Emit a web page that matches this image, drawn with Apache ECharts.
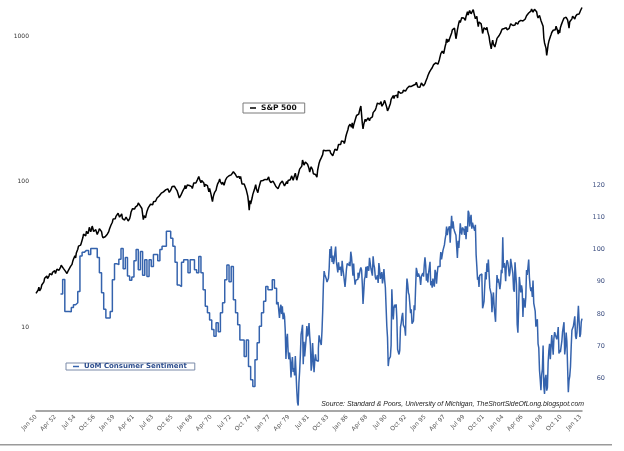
<!DOCTYPE html>
<html>
<head>
<meta charset="utf-8">
<script src="https://cdn.jsdelivr.net/npm/echarts@6/dist/echarts.min.js"></script>
<style>
  html, body { margin: 0; padding: 0; background: #fff; }
  #chart { width: 624px; height: 451px; }
</style>
</head>
<body>
<div id="chart"></div>
<script>
// S&P 500 monthly close, Jan 1950 .. Mar 2013 (one row per year)
const sp500 = [
  17.05, 17.22, 17.29, 17.96, 18.78, 17.69, 17.84, 18.42, 19.45, 19.53, 19.51, 20.41,
  21.66, 21.80, 21.40, 22.43, 21.52, 20.96, 22.40, 23.28, 23.26, 22.94, 22.88, 23.77,
  24.14, 23.26, 24.37, 23.32, 23.86, 24.96, 25.40, 25.03, 24.54, 24.52, 25.66, 26.57,
  26.38, 25.90, 25.29, 24.62, 24.54, 24.14, 24.75, 23.32, 23.35, 24.54, 24.76, 24.81,
  26.08, 26.15, 26.94, 28.26, 29.19, 29.21, 30.88, 29.83, 32.31, 31.68, 34.24, 35.98,
  36.63, 36.76, 36.58, 37.96, 37.91, 41.03, 43.52, 43.18, 43.67, 42.34, 45.51, 45.48,
  43.82, 45.34, 48.48, 48.38, 45.20, 46.97, 49.39, 47.51, 45.35, 45.58, 45.08, 46.67,
  44.72, 43.26, 44.11, 45.74, 47.43, 47.37, 47.91, 45.22, 42.42, 41.06, 41.72, 39.99,
  41.70, 40.84, 42.10, 43.44, 44.09, 45.24, 47.19, 47.75, 50.06, 51.33, 52.48, 55.21,
  55.42, 55.41, 55.44, 57.59, 58.68, 58.47, 60.51, 59.60, 56.88, 57.52, 58.28, 59.89,
  55.61, 56.12, 55.34, 54.37, 55.83, 56.92, 55.51, 56.96, 53.52, 53.39, 55.54, 58.11,
  61.78, 63.44, 65.06, 65.31, 66.56, 64.64, 66.76, 68.07, 66.73, 68.62, 71.32, 71.55,
  68.84, 69.96, 69.55, 65.24, 59.63, 54.75, 58.23, 59.12, 56.27, 56.52, 62.26, 63.10,
  66.20, 64.29, 66.57, 69.80, 70.80, 69.37, 69.13, 72.50, 71.70, 74.01, 73.23, 75.02,
  77.04, 77.80, 78.98, 79.46, 80.37, 81.69, 83.18, 81.83, 84.18, 84.86, 84.42, 84.75,
  87.56, 87.43, 86.16, 89.11, 88.42, 84.12, 85.25, 87.17, 89.96, 92.42, 91.61, 92.43,
  92.88, 91.22, 89.23, 91.06, 86.13, 84.74, 83.60, 77.10, 76.56, 80.20, 80.45, 80.33,
  86.61, 86.78, 90.20, 94.01, 89.08, 90.64, 94.75, 93.64, 96.71, 93.90, 94.00, 96.47,
  92.24, 89.36, 90.20, 97.59, 98.68, 99.58, 97.74, 98.86, 102.67, 103.41, 108.37, 103.86,
  103.01, 98.13, 101.51, 103.69, 103.46, 97.71, 91.83, 95.51, 93.12, 97.24, 93.81, 92.06,
  85.02, 89.50, 89.63, 81.52, 76.55, 72.72, 78.05, 81.52, 84.21, 83.25, 87.20, 92.15,
  95.88, 96.75, 100.31, 103.95, 99.63, 98.70, 95.58, 99.03, 98.34, 94.23, 93.99, 102.09,
  103.94, 106.57, 107.20, 107.67, 109.53, 107.14, 107.39, 111.09, 110.55, 111.58, 116.67, 118.05,
  116.03, 111.68, 111.52, 106.97, 104.95, 104.26, 108.22, 104.25, 108.43, 108.29, 95.96, 97.55,
  96.57, 96.22, 93.98, 90.31, 87.28, 86.00, 79.31, 72.15, 63.54, 73.90, 69.97, 68.56,
  76.98, 81.59, 83.36, 87.30, 91.15, 95.19, 88.75, 86.88, 83.87, 89.04, 91.24, 90.19,
  100.86, 99.71, 102.77, 101.64, 100.18, 104.28, 103.44, 102.91, 105.24, 102.90, 102.10, 107.46,
  102.03, 99.82, 98.42, 98.44, 96.12, 100.48, 98.85, 96.77, 96.53, 92.34, 94.83, 95.10,
  89.25, 87.04, 89.21, 96.83, 97.24, 95.53, 100.68, 103.29, 102.54, 93.15, 94.70, 96.11,
  99.93, 96.28, 101.59, 101.76, 99.08, 102.91, 103.81, 109.32, 109.32, 101.82, 106.16, 107.94,
  114.16, 113.66, 102.09, 106.29, 111.24, 114.24, 121.67, 122.38, 125.46, 127.47, 140.52, 135.76,
  129.55, 131.27, 136.00, 132.81, 132.59, 131.21, 130.92, 122.79, 116.18, 121.89, 126.35, 122.55,
  120.40, 113.11, 111.96, 116.44, 111.88, 109.61, 107.09, 119.51, 120.42, 133.71, 138.54, 140.64,
  145.30, 148.06, 152.96, 164.42, 162.39, 168.11, 162.56, 164.40, 166.07, 163.55, 166.40, 164.93,
  163.41, 157.06, 159.18, 160.05, 150.55, 153.18, 150.66, 166.68, 166.10, 166.09, 163.58, 167.24,
  179.63, 181.18, 180.66, 179.83, 189.55, 191.85, 190.92, 188.63, 182.08, 189.82, 202.17, 211.28,
  211.78, 226.92, 238.90, 235.52, 247.35, 250.84, 236.12, 252.93, 231.32, 243.98, 249.22, 242.17,
  274.08, 284.20, 291.70, 288.36, 290.10, 304.00, 318.66, 329.80, 321.83, 251.79, 230.30, 247.08,
  257.07, 267.82, 258.89, 261.33, 262.16, 273.50, 272.02, 261.52, 271.91, 278.97, 273.70, 277.72,
  297.47, 288.86, 294.87, 309.64, 320.52, 317.98, 346.08, 351.45, 349.15, 340.36, 345.99, 353.40,
  329.08, 331.89, 339.94, 330.80, 361.23, 358.02, 356.15, 322.56, 306.05, 304.00, 322.22, 330.22,
  343.93, 367.07, 375.22, 375.35, 389.83, 371.16, 387.81, 395.43, 387.86, 392.46, 375.22, 417.09,
  408.79, 412.70, 403.69, 414.95, 415.35, 408.14, 424.21, 414.03, 417.80, 418.68, 431.35, 435.71,
  438.78, 443.38, 451.67, 440.19, 450.19, 450.53, 448.13, 463.56, 458.93, 467.83, 461.79, 466.45,
  481.61, 467.14, 445.77, 450.91, 456.50, 444.27, 458.26, 475.49, 462.69, 472.35, 453.69, 459.27,
  470.42, 487.39, 500.71, 514.71, 533.40, 544.75, 562.06, 561.88, 584.41, 581.50, 605.37, 615.93,
  636.02, 640.43, 645.50, 654.17, 669.12, 670.63, 639.95, 651.99, 687.33, 705.27, 757.02, 740.74,
  786.16, 790.82, 757.12, 801.34, 848.28, 885.14, 954.29, 899.47, 947.28, 914.62, 955.40, 970.43,
  980.28, 1049.34, 1101.75, 1111.75, 1090.82, 1133.84, 1120.67, 957.28, 1017.01, 1098.67, 1163.63, 1229.23,
  1279.64, 1238.33, 1286.37, 1335.18, 1301.84, 1372.71, 1328.72, 1320.41, 1282.71, 1362.93, 1388.91, 1469.25,
  1394.46, 1366.42, 1498.58, 1452.43, 1420.60, 1454.60, 1430.83, 1517.68, 1436.51, 1429.40, 1314.95, 1320.28,
  1366.01, 1239.94, 1160.33, 1249.46, 1255.82, 1224.38, 1211.23, 1133.58, 1040.94, 1059.78, 1139.45, 1148.08,
  1130.20, 1106.73, 1147.39, 1076.92, 1067.14, 989.82, 911.62, 916.07, 815.28, 885.76, 936.31, 879.82,
  855.70, 841.15, 849.18, 916.92, 963.59, 974.50, 990.31, 1008.01, 995.97, 1050.71, 1058.20, 1111.92,
  1131.13, 1144.94, 1126.21, 1107.30, 1120.68, 1140.84, 1101.72, 1104.24, 1114.58, 1130.20, 1173.82, 1211.92,
  1181.27, 1203.60, 1180.59, 1156.85, 1191.50, 1191.33, 1234.18, 1220.33, 1228.81, 1207.01, 1249.48, 1248.29,
  1280.08, 1280.66, 1294.83, 1310.61, 1270.09, 1270.20, 1276.66, 1303.82, 1335.85, 1377.94, 1400.63, 1418.30,
  1438.24, 1406.82, 1420.86, 1482.37, 1530.62, 1503.35, 1455.27, 1473.99, 1526.75, 1549.38, 1481.14, 1468.36,
  1378.55, 1330.63, 1322.70, 1385.59, 1400.38, 1280.00, 1267.38, 1282.83, 1166.36, 968.75, 896.24, 903.25,
  825.88, 735.09, 797.87, 872.81, 919.14, 919.32, 987.48, 1020.62, 1057.08, 1036.19, 1095.63, 1115.10,
  1073.87, 1104.49, 1169.43, 1186.69, 1089.41, 1030.71, 1101.60, 1049.33, 1141.20, 1183.26, 1180.55, 1257.64,
  1286.12, 1327.22, 1325.83, 1363.61, 1345.20, 1320.64, 1292.28, 1218.89, 1131.42, 1253.30, 1246.96, 1257.60,
  1312.41, 1365.68, 1408.47, 1397.91, 1310.33, 1362.16, 1379.32, 1406.58, 1440.67, 1412.16, 1416.18, 1426.19,
  1498.11, 1514.68, 1569.19
];

// UoM sentiment, quarterly surveys Nov 1952 .. Nov 1977 (Nov, Feb, May, Aug)
const sentimentQuarterly = [
  86.2, 90.7, 80.8, 80.8,
  80.7, 82.0, 82.9, 83.5,
  87.0, 98.0, 99.1, 99.7,
  99.7, 98.4, 100.3, 100.3,
  100.3, 97.5, 92.8, 86.6,
  81.5, 78.8, 78.8, 80.8,
  90.6, 95.6, 95.3, 97.0,
  100.3, 94.0, 97.5, 91.8,
  90.5, 91.5, 96.5, 100.0,
  93.7, 99.4, 92.0, 96.8,
  91.6, 96.8, 94.7, 98.4,
  98.4, 96.5, 100.0, 101.0,
  101.0, 105.6, 105.6, 103.5,
  101.0, 96.0, 89.0, 88.5,
  96.0, 96.8, 96.8, 92.8,
  96.8, 96.8, 93.7, 92.8,
  97.8, 92.8, 87.5, 82.4,
  80.4, 78.2, 75.2, 73.1,
  77.3, 74.5, 80.4, 83.5,
  90.6, 95.2, 90.0, 94.7,
  84.4, 80.4, 76.7, 72.0,
  72.0, 66.9, 72.0, 63.8,
  59.7, 57.6, 65.9, 71.1,
  76.2, 80.4, 84.0, 88.5,
  87.5, 87.5, 90.6, 88.0,
  83.0
];

// UoM sentiment, monthly Jan 1978 .. Mar 2013
const sentimentMonthly = [
  83.7, 84.3, 78.8, 81.6, 82.9, 80.0, 82.4, 78.4, 80.4, 79.3, 75.0, 66.1,
  72.1, 73.9, 68.4, 66.0, 68.1, 65.8, 60.4, 64.5, 66.7, 62.1, 63.3, 61.0,
  67.0, 66.9, 56.5, 52.7, 51.7, 58.7, 62.3, 67.3, 73.7, 75.0, 76.7, 64.5,
  71.4, 66.9, 66.5, 72.4, 76.3, 73.1, 74.1, 77.2, 73.1, 70.3, 62.5, 64.3,
  71.0, 66.5, 62.0, 65.5, 67.5, 65.7, 65.4, 65.4, 69.3, 73.4, 72.1, 71.9,
  70.4, 74.6, 80.8, 89.1, 93.3, 92.2, 92.8, 90.9, 89.9, 89.3, 91.1, 94.2,
  100.1, 97.4, 101.0, 96.1, 98.1, 95.5, 96.6, 99.1, 100.9, 96.3, 95.7, 92.9,
  96.0, 93.7, 93.7, 94.6, 91.8, 96.5, 94.0, 92.4, 92.1, 88.4, 90.9, 93.9,
  95.6, 95.9, 95.1, 96.2, 94.8, 99.3, 97.7, 94.9, 91.9, 95.6, 91.4, 89.1,
  90.4, 90.2, 90.8, 92.8, 91.1, 91.5, 93.7, 94.4, 93.6, 89.3, 83.1, 86.8,
  90.8, 91.6, 94.6, 91.2, 94.8, 94.7, 93.4, 97.4, 97.3, 94.1, 93.0, 91.9,
  97.9, 95.4, 94.3, 91.5, 90.7, 90.6, 92.0, 89.6, 95.8, 93.9, 90.9, 90.5,
  93.0, 89.5, 91.3, 93.9, 90.6, 88.3, 88.2, 76.4, 72.8, 63.9, 66.0, 65.5,
  66.8, 70.4, 87.7, 81.8, 78.3, 82.1, 82.9, 82.0, 83.0, 78.3, 69.1, 68.2,
  67.5, 68.8, 76.0, 77.2, 79.2, 80.4, 76.6, 76.1, 75.6, 73.3, 85.3, 91.0,
  89.3, 86.6, 85.9, 85.6, 80.3, 81.5, 77.0, 77.3, 77.9, 82.7, 81.2, 88.2,
  94.3, 93.2, 91.5, 92.6, 92.8, 91.2, 89.0, 91.7, 91.5, 92.7, 91.6, 95.1,
  97.6, 95.1, 90.3, 92.5, 89.8, 92.7, 94.4, 96.2, 88.9, 90.2, 88.2, 91.0,
  89.3, 88.5, 93.7, 92.7, 89.4, 92.4, 94.7, 95.3, 94.7, 96.5, 99.2, 96.9,
  97.4, 99.7, 100.0, 101.4, 103.2, 104.5, 107.1, 104.4, 106.0, 105.6, 107.2, 102.1,
  106.6, 110.4, 106.5, 108.7, 106.5, 105.6, 105.2, 104.4, 100.9, 97.4, 102.7, 100.5,
  103.9, 108.1, 105.7, 104.6, 106.8, 107.3, 106.0, 104.5, 107.2, 103.2, 107.2, 105.4,
  112.0, 111.3, 107.1, 109.2, 110.7, 106.4, 108.3, 107.3, 106.8, 105.8, 107.6, 98.4,
  94.7, 90.6, 91.5, 88.4, 92.0, 92.6, 92.4, 91.5, 81.8, 82.7, 83.9, 88.8,
  93.0, 90.7, 95.7, 93.0, 96.9, 92.4, 88.1, 87.6, 86.1, 80.6, 84.2, 86.7,
  82.4, 79.9, 77.6, 86.0, 92.1, 89.7, 90.9, 89.3, 87.7, 89.6, 93.7, 92.6,
  103.8, 94.4, 95.8, 94.2, 90.2, 95.6, 96.7, 95.9, 94.2, 91.7, 92.8, 97.1,
  95.5, 94.1, 92.6, 87.7, 86.9, 96.0, 96.5, 89.1, 76.9, 74.2, 81.6, 91.5,
  91.2, 86.7, 88.9, 87.4, 79.1, 84.9, 84.7, 82.0, 85.4, 93.6, 92.1, 91.7,
  96.9, 91.3, 88.4, 87.1, 88.3, 85.3, 90.4, 83.4, 83.4, 80.9, 76.1, 75.5,
  78.4, 70.8, 69.5, 62.6, 59.8, 56.4, 61.2, 63.0, 70.3, 57.6, 55.3, 60.1,
  61.2, 56.3, 57.3, 65.1, 68.7, 70.8, 66.0, 65.7, 73.5, 70.6, 67.4, 72.5,
  74.4, 73.6, 73.6, 72.2, 73.6, 76.0, 67.8, 68.9, 68.2, 67.7, 71.6, 74.5,
  74.2, 77.5, 67.5, 69.8, 74.3, 71.5, 63.7, 55.8, 59.5, 60.8, 63.7, 69.9,
  75.0, 75.3, 76.2, 76.4, 79.3, 73.2, 72.3, 74.3, 78.3, 82.6, 82.7, 72.9,
  73.8, 77.6, 78.6
];

const monthNames = ['Jan', 'Feb', 'Mar', 'Apr', 'May', 'Jun', 'Jul', 'Aug', 'Sep', 'Oct', 'Nov', 'Dec'];
const leftTicks = [10, 100, 1000];
const rightTicks = [60, 70, 80, 90, 100, 110, 120];

// month categories Jan 50 .. Mar 13
const categories = [];
for (let y = 1950; y <= 2013; y++) {
  for (let m = 0; m < 12; m++) {
    if (y === 2013 && m > 2) break;
    categories.push(monthNames[m] + ' ' + String(y % 100).padStart(2, '0'));
  }
}

const firstSurvey = categories.indexOf('Nov 52');
const monthlyStart = categories.indexOf('Jan 78');
const sentimentData = sentimentQuarterly.map((v, i) => [firstSurvey + 3 * i, v])
  .concat(sentimentMonthly.map((v, i) => [monthlyStart + i, v]));

const BLUE = '#3563ad';

const chart = echarts.init(document.getElementById('chart'), null, { renderer: 'canvas' });

const option = {
  animation: false,
  backgroundColor: '#fff',
  grid: {
    left: 36, right: 42, top: 0, bottom: 40,
    containLabel: false,
    outerBoundsMode: 'none'
  },
  legend: [{
    data: ['S&P 500'],
    left: 243, top: 103,
    orient: 'horizontal',
    padding: [1, 8, 1, 7],
    borderColor: '#7a7a7a', borderWidth: 1,
    icon: 'rect', itemWidth: 6, itemHeight: 1.5,
    textStyle: { fontFamily: 'DejaVu Sans', fontSize: 7.5, fontWeight: 'bold', color: '#111' }
  }, {
    data: ['UoM Consumer Sentiment'],
    left: 66, top: 363,
    padding: [0, 8, 0, 7],
    borderColor: '#7a8aa8', borderWidth: 1,
    icon: 'rect', itemWidth: 6, itemHeight: 1.5,
    textStyle: { fontFamily: 'DejaVu Sans', fontSize: 7, fontWeight: 'bold', color: '#2d4e8e' }
  }],
  xAxis: {
    type: 'category',
    data: categories,
    boundaryGap: false,
    axisLine: { show: true, lineStyle: { color: '#8a8a8a', width: 1.5 } },
    axisTick: { show: false },
    splitLine: { show: false },
    axisLabel: {
      interval: 26,
      rotate: 45,
      margin: 5,
      fontFamily: 'DejaVu Sans',
      fontSize: 6,
      color: '#555'
    }
  },
  yAxis: [{
    type: 'log',
    logBase: 10,
    min: 2.647,
    max: 1768,
    position: 'left',
    axisLine: { show: false },
    axisTick: { show: false },
    splitLine: { show: false },
    axisLabel: {
      margin: 7,
      fontFamily: 'DejaVu Sans',
      fontSize: 6,
      color: '#333',
      formatter: function (v) {
        const hit = leftTicks.find(t => Math.abs(v - t) / t < 1e-6);
        return hit ? String(hit) : '';
      }
    }
  }, {
    type: 'value',
    min: 50,
    max: 177.2,
    interval: 10,
    position: 'right',
    axisLine: { show: false },
    axisTick: { show: false },
    splitLine: { show: false },
    axisLabel: {
      margin: 23,
      align: 'right',
      fontFamily: 'DejaVu Sans',
      fontSize: 6.5,
      color: '#3d4f80',
      formatter: function (v) {
        return rightTicks.indexOf(Math.round(v)) >= 0 && Math.abs(v - Math.round(v)) < 1e-6 ? String(Math.round(v)) : '';
      }
    }
  }],
  series: [{
    name: 'S&P 500',
    type: 'line',
    yAxisIndex: 0,
    data: sp500,
    showSymbol: false,
    symbol: 'none',
    color: '#000',
    lineStyle: { color: '#000', width: 1.5 },
    z: 2
  }, {
    name: 'UoM Consumer Sentiment',
    type: 'line',
    yAxisIndex: 1,
    data: sentimentData,
    step: 'end',
    showSymbol: false,
    symbol: 'none',
    color: BLUE,
    lineStyle: { color: BLUE, width: 1.5 },
    z: 3
  }],
  graphic: [{
    type: 'text',
    right: 40,
    top: 401,
    style: {
      text: 'Source: Standard & Poors, University of Michigan, TheShortSideOfLong.blogspot.com',
      fontFamily: 'Liberation Sans',
      fontStyle: 'italic',
      fontSize: 6.9,
      fill: '#222'
    }
  }, {
    type: 'rect',
    left: 0,
    top: 444,
    shape: { width: 612, height: 1.5 },
    style: { fill: '#9a9a9a' }
  }]
};

chart.setOption(option);
</script>
</body>
</html>
